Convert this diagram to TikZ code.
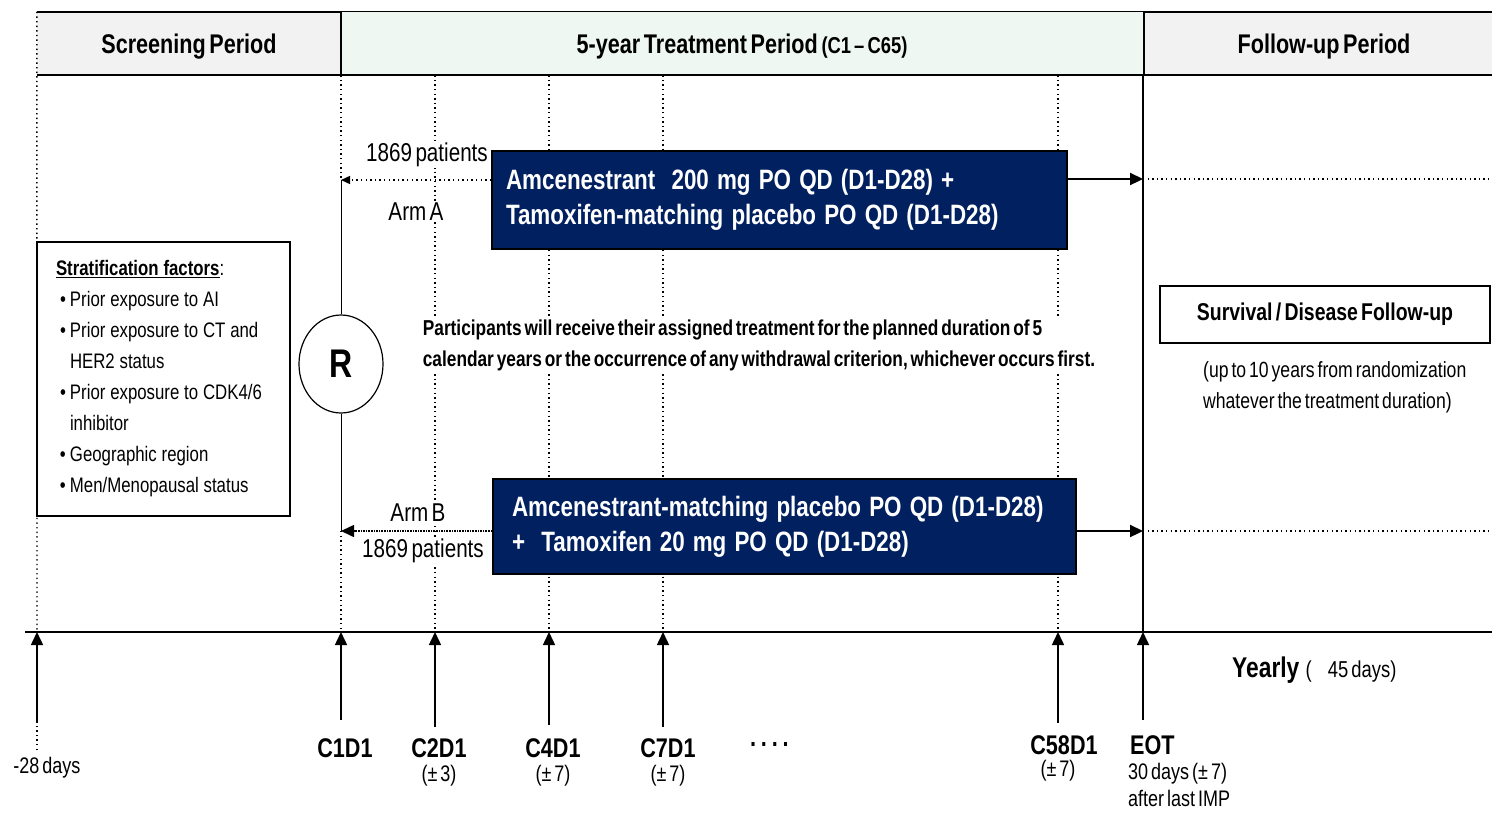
\documentclass[tikz,border=0pt]{standalone}
\usepackage{fontspec}
\setmainfont{Liberation Sans}[FakeStretch=0.8,WordSpace=0.6]
\usepackage{tikz}
\usetikzlibrary{arrows.meta,positioning,shapes.geometric}

\definecolor{navy}{HTML}{002060}
\definecolor{hdrgray}{HTML}{F2F2F2}
\definecolor{hdrgreen}{HTML}{EEF7F1}

\newcommand{\fsz}[2]{\fontsize{#1}{#2}\selectfont}
\newcommand{\bul}{\hspace*{4pt}\makebox[10pt][l]{\textbullet}}
\newcommand{\cont}{\hspace*{14pt}}

\begin{document}
\begin{tikzpicture}[x=1pt,y=-1pt,>={Triangle[length=13pt,width=12pt]},
                    header/.style={inner sep=0pt,text depth=0pt,font=\bfseries\fsz{27}{30}},
                    wordsp/.style={execute at begin node={\spaceskip=#1\xspaceskip=#1}},
                    armbox/.style={draw=black,line width=1.8pt,fill=navy,text=white,wordsp=.29em,
                                   font=\bfseries\fsz{28}{35},align=left,inner xsep=0pt},
                    note/.style={inner sep=1pt,fill=white,font=\fsz{25.8}{30}},
                    visit/.style={inner sep=0pt,font=\bfseries\fsz{27}{30}},
                    window/.style={inner sep=0pt,font=\fsz{22.5}{27}},
                    tick/.style={->,line width=1.5pt},
                    guide/.style={dash pattern=on 1.4pt off 3.2pt,line width=1.4pt}]

  \useasboundingbox (0,0) rectangle (1492,839);

  % period headers
  \node[header,fill=hdrgray,minimum width=304pt,minimum height=63pt] (screen) at (189,43.5) {Screening Period};
  \node[header,fill=hdrgreen,minimum width=802pt,minimum height=63pt] (treat) at (742,43.5)
        {5-year Treatment Period {\fsz{23}{26}(C1 -- C65)}};
  \node[header,fill=hdrgray,draw,line width=2pt,minimum width=360pt,minimum height=63pt,anchor=west] (follow)
        at (1143,43.5) {Follow-up Period};

  \draw[line width=2pt] (screen.north west) -- (screen.north east) -- (screen.south east) -- (screen.south west);
  \draw[line width=1.2pt] (treat.north west) -- (treat.north east);
  \draw[line width=2pt] (treat.south west) -- (treat.south east);

  \coordinate (tS) at (37,632);
  \coordinate (t1) at (341,632);
  \coordinate (t2) at (435,632);
  \coordinate (t4) at (549,632);
  \coordinate (t7) at (663,632);
  \coordinate (t58) at (1058,632);
  \coordinate (tE) at (1143,632);

  \coordinate (splitA) at (341,180);
  \coordinate (splitB) at (341,531);
  \coordinate (eotA) at (1143,179);
  \coordinate (eotB) at (1143,531);
  \coordinate (endA) at (1500,179);
  \coordinate (endB) at (1500,531);

  % guide lines
  \draw[guide] (screen.north west) -- (tS);
  \foreach \g in {t2,t4,t7,t58}
    \draw[guide] (\g |- screen.south) -- (\g);
  \draw[guide] (t1 |- screen.south) -- (splitA);
  \draw[guide] (splitB) -- (t1);
  \draw[line width=1.2pt] (follow.south west) -- (tE);

  % treatment arms
  \node[armbox,minimum width=575pt,minimum height=98pt,text width=547pt] (armA) at (779.5,200)
        {Amcenestrant\ \ 200 mg PO QD (D1-D28) +\\Tamoxifen-matching placebo PO QD (D1-D28)};
  \node[armbox,minimum width=583pt,minimum height=95pt,text width=545pt] (armB) at (784.5,526.5)
        {Amcenestrant-matching placebo PO QD (D1-D28)\\+\ \ Tamoxifen 20 mg PO QD (D1-D28)};

  \node[ellipse,draw,line width=1.2pt,fill=white,minimum width=84pt,minimum height=98pt,
        font=\bfseries\fsz{40}{40}] (R) at (341,364) {R};

  \draw[line width=0.8pt] (splitA) -- (R.north);
  \draw[line width=0.8pt] (R.south) -- (splitB);

  \draw[guide,-{Triangle[length=9pt,width=8pt]}] ([yshift=20pt]armA.west) -- (splitA);
  \draw[->,line width=2.2pt] ([yshift=21pt]armA.east) -- (eotA);
  \draw[guide] (eotA) -- (endA);
  \draw[densely dotted,line width=1.6pt,->] ([yshift=-4.5pt]armB.west) -- (splitB);
  \draw[->,line width=2.2pt] ([yshift=-4.5pt]armB.east) -- (eotB);
  \draw[guide] (eotB) -- (endB);

  \node[note] (nA) at (427,155) {1869 patients};
  \node[note] (lblA) at (416,212) {Arm A};
  \node[note] (lblB) at (418,513) {Arm B};
  \node[note] (nB) at (423,551) {1869 patients};

  \node[draw,line width=1.8pt,minimum width=253pt,minimum height=274pt,text width=215pt,align=left,
        inner xsep=0pt,wordsp=.23em,font=\fsz{21}{31}] (strat) at (163.5,379)
        {\underline{\textbf{Stratification factors}}:\\
         \bul Prior exposure to AI\\
         \bul Prior exposure to CT and\\
         \cont HER2 status\\
         \bul Prior exposure to CDK4/6\\
         \cont inhibitor\\
         \bul Geographic region\\
         \bul Men/Menopausal status};

  \node[fill=white,inner sep=2pt,align=left,font=\bfseries\fsz{21.6}{31}] (plan) at (759,345.5)
        {Participants will receive their assigned treatment for the planned duration of 5\\
         calendar years or the occurrence of any withdrawal criterion, whichever occurs first.};

  \node[draw,line width=1.8pt,minimum width=330pt,minimum height=57pt,font=\bfseries\fsz{24.3}{28}] (surv)
        at (1325,314.5) {Survival / Disease Follow-up};
  \node[window,anchor=west,align=left,font=\fsz{22}{31}] (survnote) at (1203,387.5)
        {(up to 10 years from randomization\\whatever the treatment duration)};

  % time line
  \draw[line width=2.5pt] (25,632) -- (1500,632);

  \coordinate (bS) at (37,722);
  \coordinate (b1) at (341,720);
  \coordinate (b2) at (435,727);
  \coordinate (b4) at (549,725);
  \coordinate (b7) at (663,727);
  \coordinate (b58) at (1058,723);
  \coordinate (bE) at (1143,720);
  \coordinate (lowS) at (37,750);

  \foreach \t in {S,1,2,4,7,58,E}
    \draw[tick] (b\t) -- (t\t);
  \draw[guide] (lowS) -- (bS);

  \node[inner sep=0pt,font=\fsz{22.5}{26}] (dS) at (47,768) {-28 days};
  \node[visit] (v1) at (345,748) {C1D1};
  \node[visit] (v2) at (439,748) {C2D1};
  \node[window,below=7pt of v2] (w2) {(± 3)};
  \node[visit] (v4) at (553,748) {C4D1};
  \node[window,below=7pt of v4] (w4) {(± 7)};
  \node[visit] (v7) at (668,748) {C7D1};
  \node[window,below=7pt of v7] (w7) {(± 7)};
  \node[visit] (dots) at (770,748) {· · · ·};
  \node[visit] (v58) at (1064,745) {C58D1};
  \node[window] (w58) at (1058,771) {(± 7)};
  \node[visit,anchor=west] (vE) at (1130,745) {EOT};
  \node[window,anchor=west,align=left] (wE) at (1128,784.5) {30 days (± 7)\\after last IMP};

  \node[anchor=west,inner sep=0pt] (yearly) at (1232,670)
        {{\bfseries\fsz{28.5}{30}Yearly}\hspace{5pt} {\fsz{23}{26}(\hspace{16pt}45 days)}};

\end{tikzpicture}
\end{document}
